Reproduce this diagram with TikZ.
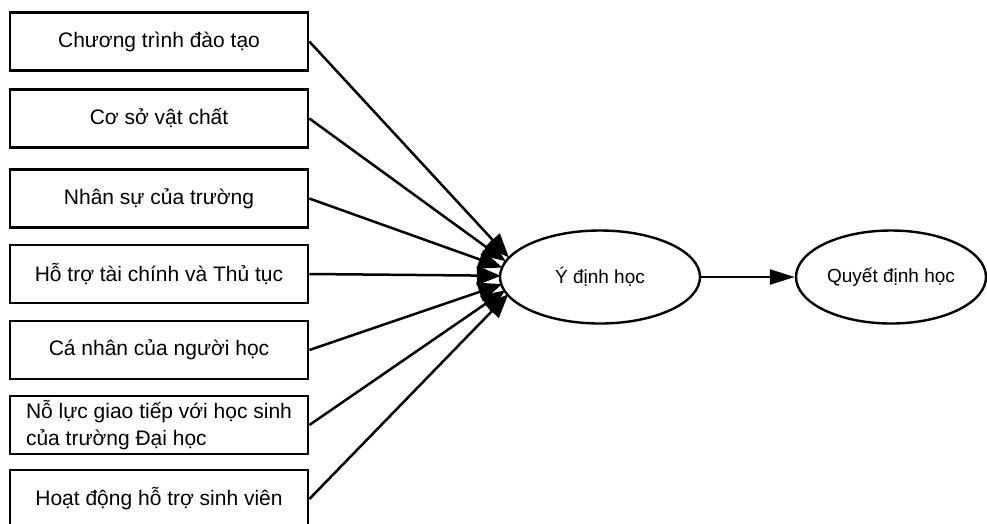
\documentclass[tikz,border=0pt]{standalone}
\usepackage{fontspec}
\setmainfont{Liberation Sans}
\usetikzlibrary{shapes.geometric,arrows.meta}
\begin{document}
\begin{tikzpicture}[x=1pt,y=-1pt,
  factor/.style={draw,line width=2.7pt,minimum width=298pt,minimum height=58pt,inner sep=2pt,font=\fontsize{21}{27}\selectfont},
  construct/.style={draw,ellipse,line width=2.4pt,inner sep=0pt,font=\fontsize{19}{23}\selectfont},
  link/.style={line width=2.5pt,-{Triangle[length=24pt,width=19pt]}},
  mainlink/.style={line width=2.5pt,-{Triangle[length=25pt,width=15pt]}}]
\useasboundingbox (0,0) rectangle (987,523);
\node[factor] (b1) at (159,41.5) {Chương trình đào tạo};
\node[factor] (b2) at (159,118.5) {Cơ sở vật chất};
\node[factor] (b3) at (159,198.5) {Nhân sự của trường};
\node[factor] (b4) at (159,274) {Hỗ trợ tài chính và Thủ tục};
\node[factor] (b5) at (159,350) {Cá nhân của người học};
\node[factor,align=left] (b6) at (159,425) {Nỗ lực giao tiếp với học sinh\\của trường Đại học};
\node[factor] (b7) at (159,499) {Hoạt động hỗ trợ sinh viên};
\node[construct,minimum width=200pt,minimum height=93pt] (e1) at (600,277) {Ý định học};
\node[construct,minimum width=190pt,minimum height=93pt] (e2) at (891,277) {Quyết định học};
\node[circle,minimum size=50pt,inner sep=0pt] (hub) at (526,276) {};
\foreach \b in {b1,b2,b3,b4,b5,b6,b7}
  \draw[link] (\b.east) -- (hub);
\draw[mainlink] (e1.east) -- (e2.west);
\end{tikzpicture}
\end{document}
